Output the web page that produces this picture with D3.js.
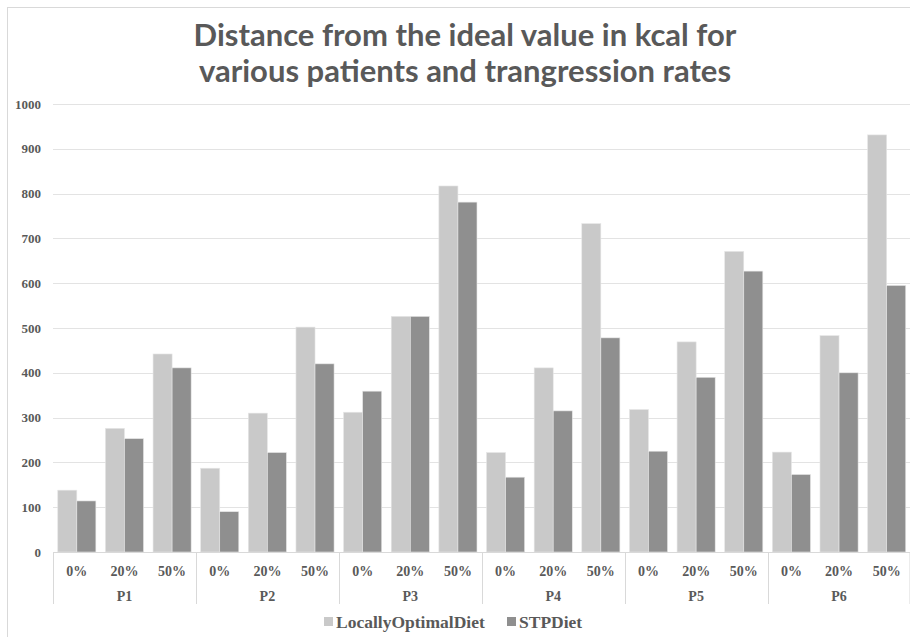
<!DOCTYPE html>
<html>
<head>
<meta charset="utf-8">
<script src="https://cdn.jsdelivr.net/npm/d3@7"></script>
<style>
  body { margin: 0; background: #fff; }
  svg text { fill: #595959; }
</style>
</head>
<body>
<div id="chart"></div>
<script>
// data
var patients = ["P1", "P2", "P3", "P4", "P5", "P6"];
var rates = ["0%", "20%", "50%"];
var seriesNames = ["LocallyOptimalDiet", "STPDiet"];
var locallyOptimal = [138, 276, 442, 187, 310, 502, 312, 526, 817, 222, 411, 733, 318, 469, 671, 223, 483, 931];
var stpDiet = [114, 253, 411, 90, 222, 420, 359, 526, 781, 167, 315, 478, 225, 390, 627, 173, 400, 595];
var yTicks = [0, 100, 200, 300, 400, 500, 600, 700, 800, 900, 1000];
var colors = ["#c9c9c9", "#8f8f8f"];

function drawChart() {
    var width = 910, height = 637;
    var margin = {left: 53, top: 104};
    var plotRight = 910.5, plotBottom = 552;
    var serif = "'Liberation Serif', 'Times New Roman', serif";

    var svg = d3.select("#chart")
        .append("svg")
        .attr("width", width)
        .attr("height", height);

    // chart border
    svg.append("rect")
        .attr("x", 7.5).attr("y", 7.5)
        .attr("width", 920).attr("height", 640)
        .attr("fill", "none")
        .attr("stroke", "#d9d9d9");

    // title
    var title = svg.append("text")
        .attr("text-anchor", "middle")
        .attr("font-family", "Lato, sans-serif")
        .attr("font-weight", "bold")
        .attr("font-size", 31);
    title.append("tspan").attr("x", 465).attr("y", 46).text("Distance from the ideal value in kcal for");
    title.append("tspan").attr("x", 465).attr("y", 82).text("various patients and trangression rates");

    var y = d3.scaleLinear()
        .domain([0, 1000])
        .range([plotBottom, margin.top]);

    var x0 = d3.scaleBand()
        .domain(patients)
        .range([margin.left, plotRight]);

    var x1 = d3.scaleBand()
        .domain(rates)
        .range([0, x0.bandwidth()]);

    var x2 = d3.scaleBand()
        .domain(seriesNames)
        .range([0, x1.bandwidth()])
        .paddingOuter(0.25)
        .paddingInner(0);

    // gridlines
    svg.append("g")
        .selectAll("line")
        .data(yTicks.slice(1))
        .enter()
        .append("line")
        .attr("x1", margin.left)
        .attr("x2", plotRight)
        .attr("y1", function(d) { return Math.round(y(d)) + 0.5; })
        .attr("y2", function(d) { return Math.round(y(d)) + 0.5; })
        .attr("stroke", "#e3e3e3");

    // y labels
    svg.append("g")
        .selectAll("text")
        .data(yTicks)
        .enter()
        .append("text")
        .attr("x", 41)
        .attr("y", function(d) { return y(d); })
        .attr("dy", "0.35em")
        .attr("text-anchor", "end")
        .attr("font-family", serif)
        .attr("font-weight", "bold")
        .attr("font-size", 13)
        .text(function(d) { return d; });

    // bars
    var rows = [];
    patients.forEach(function(p, i) {
        rates.forEach(function(r, j) {
            rows.push({patient: p, rate: r, values: [locallyOptimal[i * 3 + j], stpDiet[i * 3 + j]]});
        });
    });

    var groups = svg.append("g")
        .selectAll("g")
        .data(rows)
        .enter()
        .append("g")
        .attr("transform", function(d) {
            return "translate(" + (x0(d.patient) + x1(d.rate)) + ",0)";
        });

    groups.selectAll("rect")
        .data(function(d) {
            return d.values.map(function(v, k) { return {name: seriesNames[k], value: v, k: k}; });
        })
        .enter()
        .append("rect")
        .attr("x", function(d) { return x2(d.name); })
        .attr("width", x2.bandwidth())
        .attr("y", function(d) { return y(d.value); })
        .attr("height", function(d) { return plotBottom - y(d.value); })
        .attr("fill", function(d) { return colors[d.k]; })
        .attr("stroke", "#e6e6e6")
        .attr("stroke-width", 0.6);

    // x axis line and separators
    var axis = svg.append("g").attr("stroke", "#d9d9d9");
    axis.append("line")
        .attr("x1", margin.left).attr("x2", plotRight)
        .attr("y1", plotBottom + 0.5).attr("y2", plotBottom + 0.5);
    axis.selectAll(".sep")
        .data(patients.concat(["end"]))
        .enter()
        .append("line")
        .attr("class", "sep")
        .attr("x1", function(d) { return d === "end" ? plotRight - 0.5 : Math.round(x0(d)) + 0.5; })
        .attr("x2", function(d) { return d === "end" ? plotRight - 0.5 : Math.round(x0(d)) + 0.5; })
        .attr("y1", plotBottom)
        .attr("y2", 604);

    // rate labels
    svg.append("g")
        .selectAll("text")
        .data(rows)
        .enter()
        .append("text")
        .attr("x", function(d) { return x0(d.patient) + x1(d.rate) + x1.bandwidth() / 2; })
        .attr("y", 571)
        .attr("dy", "0.35em")
        .attr("text-anchor", "middle")
        .attr("font-family", serif)
        .attr("font-weight", "bold")
        .attr("font-size", 14)
        .text(function(d) { return d.rate; });

    // patient labels
    svg.append("g")
        .selectAll("text")
        .data(patients)
        .enter()
        .append("text")
        .attr("x", function(d) { return x0(d) + x0.bandwidth() / 2; })
        .attr("y", 596)
        .attr("dy", "0.35em")
        .attr("text-anchor", "middle")
        .attr("font-family", serif)
        .attr("font-weight", "bold")
        .attr("font-size", 14)
        .text(function(d) { return d; });

    // legend
    var legendX = [324, 507];
    var legend = svg.append("g")
        .selectAll("g")
        .data(seriesNames)
        .enter()
        .append("g")
        .attr("transform", function(d, i) { return "translate(" + legendX[i] + ",617)"; });
    legend.append("rect")
        .attr("width", 9).attr("height", 9)
        .attr("fill", function(d, i) { return colors[i]; });
    legend.append("text")
        .attr("x", 12)
        .attr("y", 5)
        .attr("dy", "0.35em")
        .attr("font-family", serif)
        .attr("font-weight", "bold")
        .attr("font-size", 17.5)
        .text(function(d) { return d; });
}

drawChart();
</script>
</body>
</html>
